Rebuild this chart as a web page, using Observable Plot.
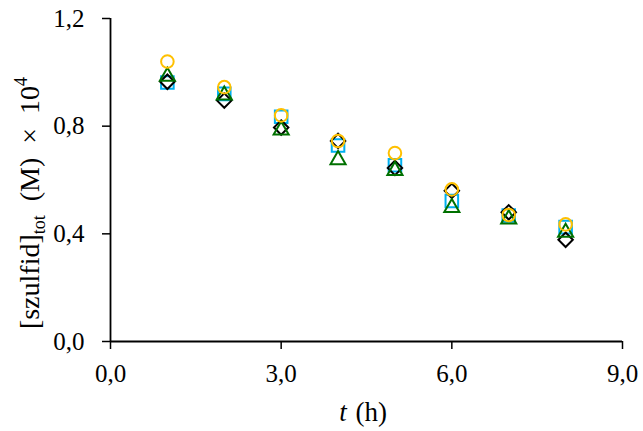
<!DOCTYPE html>
<html>
<head>
<meta charset="utf-8">
<script src="https://cdn.jsdelivr.net/npm/d3@7"></script>
<script src="https://cdn.jsdelivr.net/npm/@observablehq/plot@0.6"></script>
<style>
  html, body { margin: 0; padding: 0; background: #fff; }
  #chart svg { display: block; }
</style>
</head>
<body>
<div id="chart"></div>
<script>
const times = [1, 2, 3, 4, 5, 6, 7, 8];
const circleSeries = [1.04, 0.945, 0.84, 0.745, 0.70, 0.565, 0.47, 0.435];
const squareSeries = [0.962, 0.92, 0.835, 0.728, 0.655, 0.522, 0.468, 0.425];
const triangleSeries = [0.985, 0.915, 0.785, 0.675, 0.635, 0.497, 0.455, 0.405];
const diamondSeries = [0.965, 0.895, 0.795, 0.745, 0.645, 0.56, 0.48, 0.378];
const xTicks = [0, 3, 6, 9];
const yTicks = [0, 0.4, 0.8, 1.2];

const rows = (vals) => times.map((t, i) => ({t, v: vals[i]}));
const fmt = d => d.toFixed(1).replace(".", ",");
const FONT = "'Liberation Serif', 'Times New Roman', serif";

const plot = Plot.plot({
  width: 643,
  height: 431,
  marginLeft: 110,
  marginRight: 21,
  marginTop: 18,
  marginBottom: 90,
  style: {fontFamily: FONT, fontSize: "25px", color: "#000", background: "#fff"},
  x: {domain: [0, 9]},
  y: {domain: [0, 1.2]},
  marks: [
    Plot.axisX({ticks: xTicks, tickFormat: fmt, tickSize: 8, tickPadding: 15, strokeWidth: 1.5, fontSize: 25, fontFamily: FONT, label: null}),
    Plot.axisY({ticks: yTicks, tickFormat: fmt, tickSize: 8, tickPadding: 18, strokeWidth: 1.5, fontSize: 25, fontFamily: FONT, label: null}),
    Plot.ruleX([0], {y1: 0, y2: 1.2, stroke: "#000", strokeWidth: 1.8}),
    Plot.ruleY([0], {x1: 0, x2: 9, stroke: "#000", strokeWidth: 1.8}),
    Plot.dot(rows(squareSeries), {x: "t", y: "v", symbol: "square2", r: 8, stroke: "#00B0F0", strokeWidth: 2, fill: "none"}),
    Plot.dot(rows(diamondSeries), {x: "t", y: "v", symbol: "diamond2", r: 6.5, stroke: "#000", strokeWidth: 2, fill: "none"}),
    Plot.dot(rows(triangleSeries), {x: "t", y: "v", symbol: "triangle2", r: 7.2, stroke: "#007000", strokeWidth: 2, fill: "none"}),
    Plot.dot(rows(circleSeries), {x: "t", y: "v", symbol: "circle", r: 6.3, stroke: "#FFC000", strokeWidth: 2, fill: "none"})
  ]
});
document.getElementById("chart").appendChild(plot);

const svg = d3.select(plot);
// x axis title
const xt = svg.append("text")
  .attr("x", 363).attr("y", 421)
  .attr("text-anchor", "middle")
  .style("font-family", FONT).style("font-size", "27px").style("word-spacing", "2px").attr("fill", "#000");
xt.append("tspan").style("font-style", "italic").text("t");
xt.append("tspan").text(" (h)");

// y axis title
const yt = svg.append("text")
  .attr("transform", "translate(39,203) rotate(-90)")
  .attr("text-anchor", "middle")
  .style("font-family", FONT).style("font-size", "28px").style("word-spacing", "7px").attr("fill", "#000");
yt.append("tspan").text("[szulfid]");
yt.append("tspan").style("font-size", "18px").attr("dy", 6).text("tot");
yt.append("tspan").attr("dy", -6).text(" (M) × 10");
yt.append("tspan").style("font-size", "18px").attr("dy", -12).text("4");
</script>
</body>
</html>
